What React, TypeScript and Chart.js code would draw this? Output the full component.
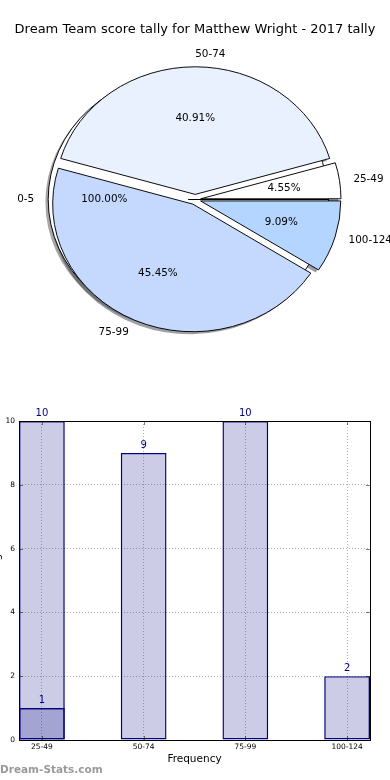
import React, { useEffect, useRef } from 'react';
import { Chart, registerables } from 'chart.js';

Chart.register(...registerables);

// ---------------- data ----------------
const chartTitle = 'Dream Team score tally for Matthew Wright - 2017 tally';

const pieBands = ['25-49', '50-74', '75-99', '100-124'];
const pieCounts = [1, 9, 10, 2];
const pieColors = ['#ffffff', '#e9f1ff', '#c5d9ff', '#b4d5ff'];

const zeroBands = ['0-5'];
const zeroCounts = [1];
const zeroColors = ['#ffffff'];

const barBands = ['25-49', '50-74', '75-99', '100-124'];
const barTotals = [10, 9, 10, 2];
const barOverlay: (number | null)[] = [1, null, null, null];
const yTickValues = [0, 2, 4, 6, 8, 10];

const xAxisTitle = 'Frequency';
const yAxisTitle = 'Score Range';
const watermark = 'Dream-Stats.com';

// ---------------- style ----------------
const FONT = '"DejaVu Sans", Verdana, sans-serif';
const PIE_CX = 195.2;
const PIE_CY = 199.5;
const PIE_RX = 140.2;
const PIE_RY = 127.6;
const PIE_SY = PIE_RY / PIE_RX;
const EXPLODE = [5.6, 6.8];
const SHADOW = 0.02 * PIE_RX;

function shadowOf(hex: string) {
  const n = parseInt(hex.slice(1), 16);
  const r = (n >> 16) & 255, g = (n >> 8) & 255, b = n & 255;
  return `rgba(${Math.round(r * 0.3)},${Math.round(g * 0.3)},${Math.round(b * 0.3)},0.5)`;
}

function applyEllipse(ctx: CanvasRenderingContext2D) {
  ctx.translate(PIE_CX, PIE_CY);
  ctx.scale(1, PIE_SY);
  ctx.translate(-PIE_CX, -PIE_CY);
}

// clockwise order for Chart.js (matplotlib draws counter-clockwise from east)
const pieOrder = pieBands.map((_, i) => pieBands.length - 1 - i);
const pieLabelSets = [pieOrder.map((i) => pieBands[i]), zeroBands];

const piePlugin = {
  id: 'pieLook',
  afterDatasetsUpdate(chart: any) {
    chart.data.datasets.forEach((_: any, di: number) => {
      const meta = chart.getDatasetMeta(di);
      meta.data.forEach((el: any) => {
        const mid = (el.startAngle + el.endAngle) / 2;
        el.x = PIE_CX + EXPLODE[di] * Math.cos(mid);
        el.y = PIE_CY + EXPLODE[di] * Math.sin(mid);
        el.innerRadius = 0;
        el.outerRadius = PIE_RX;
      });
    });
  },
  beforeDatasetsDraw(chart: any) {
    const ctx: CanvasRenderingContext2D = chart.ctx;
    ctx.save();
    applyEllipse(ctx);
    for (let di = chart.data.datasets.length - 1; di >= 0; di--) {
      const ds = chart.data.datasets[di];
      chart.getDatasetMeta(di).data.forEach((el: any, i: number) => {
        const x = el.x - SHADOW;
        const y = el.y + SHADOW;
        ctx.beginPath();
        ctx.moveTo(x, y);
        ctx.arc(x, y, el.outerRadius, el.startAngle, el.endAngle);
        ctx.closePath();
        ctx.fillStyle = shadowOf(ds.backgroundColor[i]);
        ctx.fill();
      });
    }
    ctx.restore();
  },
  beforeDatasetDraw(chart: any) {
    chart.ctx.save();
    applyEllipse(chart.ctx);
  },
  afterDatasetDraw(chart: any) {
    chart.ctx.restore();
  },
  afterDraw(chart: any) {
    const ctx: CanvasRenderingContext2D = chart.ctx;
    ctx.save();
    ctx.fillStyle = '#000';
    ctx.textBaseline = 'middle';
    ctx.textAlign = 'center';
    ctx.font = `13px ${FONT}`;
    ctx.fillText(chartTitle, 195, 30);
    ctx.font = `10.4px ${FONT}`;
    chart.data.datasets.forEach((ds: any, di: number) => {
      const total = ds.data.reduce((s: number, v: number) => s + v, 0);
      chart.getDatasetMeta(di).data.forEach((el: any, i: number) => {
        const mid = (el.startAngle + el.endAngle) / 2;
        const c = Math.cos(mid);
        const s = Math.sin(mid);
        const toScreenY = (uy: number) => PIE_CY + (uy - PIE_CY) * PIE_SY;
        // outer label
        ctx.textAlign = c > -1e-6 ? 'left' : 'right';
        ctx.fillText(pieLabelSets[di][i], el.x + 1.1 * PIE_RX * c, toScreenY(el.y + 1.1 * PIE_RX * s));
        // percentage
        ctx.textAlign = 'center';
        const pct = ((100 * ds.data[i]) / total).toFixed(2) + '%';
        ctx.fillText(pct, el.x + 0.6 * PIE_RX * c, toScreenY(el.y + 0.6 * PIE_RX * s));
      });
    });
    ctx.restore();
  },
};

function pieConfig(): any {
  return {
    type: 'pie',
    data: {
      labels: pieLabelSets[0],
      datasets: [
        {
          data: pieOrder.map((i) => pieCounts[i]),
          backgroundColor: pieOrder.map((i) => pieColors[i]),
          borderColor: '#000',
          borderWidth: 1,
        },
        {
          data: zeroCounts,
          backgroundColor: zeroColors,
          borderColor: '#000',
          borderWidth: 1,
        },
      ],
    },
    options: {
      responsive: false,
      animation: false,
      events: [],
      rotation: 90,
      plugins: { legend: { display: false }, tooltip: { enabled: false } },
    },
    plugins: [piePlugin],
  };
}

const barPlugin = {
  id: 'barLook',
  afterDraw(chart: any) {
    const ctx: CanvasRenderingContext2D = chart.ctx;
    const a = chart.chartArea;
    const xs = chart.scales.x;
    const ys = chart.scales.y;
    ctx.save();
    // inward tick marks
    ctx.strokeStyle = 'rgba(0,0,0,0.5)';
    ctx.lineWidth = 1;
    ctx.beginPath();
    yTickValues.forEach((v) => {
      const y = Math.round(ys.getPixelForValue(v)) + 0.5;
      ctx.moveTo(a.left, y);
      ctx.lineTo(a.left + 4, y);
      ctx.moveTo(a.right - 4, y);
      ctx.lineTo(a.right, y);
    });
    barBands.forEach((_, i) => {
      const x = Math.round(xs.getPixelForValue(i)) + 0.5;
      ctx.moveTo(x, a.top);
      ctx.lineTo(x, a.top + 4);
      ctx.moveTo(x, a.bottom - 4);
      ctx.lineTo(x, a.bottom);
    });
    ctx.stroke();
    // frame
    ctx.strokeStyle = '#000';
    const l = Math.round(a.left), t = Math.round(a.top), r = Math.round(a.right), b = Math.round(a.bottom);
    ctx.strokeRect(l + 0.5, t + 0.5, r - l, b - t);
    // value labels
    ctx.fillStyle = '#000080';
    ctx.font = `10px ${FONT}`;
    ctx.textAlign = 'center';
    ctx.textBaseline = 'alphabetic';
    chart.data.datasets.forEach((ds: any, di: number) => {
      chart.getDatasetMeta(di).data.forEach((el: any, i: number) => {
        const v = ds.data[i].y;
        if (v == null) return;
        ctx.fillText(String(v), el.x, el.y - 5);
      });
    });
    // y axis title (mostly cut off at the left edge)
    ctx.save();
    ctx.fillStyle = '#000';
    ctx.font = `10.5px ${FONT}`;
    ctx.translate(-3, (a.top + a.bottom) / 2);
    ctx.rotate(-Math.PI / 2);
    ctx.textAlign = 'center';
    ctx.textBaseline = 'middle';
    ctx.fillText(yAxisTitle, 0, 0);
    ctx.restore();
    // watermark
    ctx.fillStyle = '#9a9a9a';
    ctx.font = `bold 10.5px ${FONT}`;
    ctx.textAlign = 'left';
    ctx.textBaseline = 'middle';
    ctx.fillText(watermark, 0, 390);
    ctx.restore();
  },
};

function barConfig(): any {
  const common = {
    backgroundColor: 'rgba(0,0,128,0.2)',
    borderColor: '#000080',
    borderWidth: 1.4,
    borderSkipped: false,
    grouped: false,
    barPercentage: 0.45,
    categoryPercentage: 1,
  };
  const gridOpts = { color: 'rgba(0,0,0,0.3)', drawTicks: false, z: 1, offset: false };
  const borderOpts = { display: false, dash: [1, 2] };
  return {
    type: 'bar',
    data: {
      datasets: [
        { label: 'overlay', data: barOverlay.map((v, i) => ({ x: i, y: v })), ...common },
        { label: 'totals', data: barTotals.map((v, i) => ({ x: i, y: v })), ...common },
      ],
    },
    options: {
      responsive: false,
      animation: false,
      events: [],
      layout: { padding: { top: 41, right: 20, left: 0, bottom: 0 } },
      plugins: { legend: { display: false }, tooltip: { enabled: false } },
      scales: {
        x: {
          type: 'linear',
          offset: false,
          min: -0.225,
          max: 3.225,
          afterBuildTicks: (s: any) => {
            s.ticks = barBands.map((_, i) => ({ value: i }));
          },
          afterFit: (s: any) => {
            s.height = 40;
          },
          ticks: {
            callback: (v: number) => barBands[v] ?? '',
            font: { family: FONT, size: 7.5 },
            color: '#000',
            padding: 3,
            maxRotation: 0,
            autoSkip: false,
          },
          grid: gridOpts,
          border: borderOpts,
          title: {
            display: true,
            text: xAxisTitle,
            font: { family: FONT, size: 10.5 },
            color: '#000',
            padding: { top: 0, bottom: 14 },
          },
        },
        y: {
          min: 0,
          max: 10,
          afterBuildTicks: (s: any) => {
            s.ticks = yTickValues.map((v) => ({ value: v }));
          },
          afterFit: (s: any) => {
            s.width = 19;
          },
          ticks: {
            font: { family: FONT, size: 7.5 },
            color: '#000',
            padding: 4,
          },
          grid: gridOpts,
          border: borderOpts,
        },
      },
    },
    plugins: [barPlugin],
  };
}

export default function App() {
  const pieRef = useRef<HTMLCanvasElement>(null);
  const barRef = useRef<HTMLCanvasElement>(null);
  useEffect(() => {
    const pie = new Chart(pieRef.current as HTMLCanvasElement, pieConfig());
    const bar = new Chart(barRef.current as HTMLCanvasElement, barConfig());
    return () => {
      pie.destroy();
      bar.destroy();
    };
  }, []);
  return (
    <div style={{ position: 'fixed', left: 0, top: 0, width: 390, height: 780, background: '#fff', overflow: 'hidden' }}>
      <canvas ref={pieRef} width={390} height={380} style={{ position: 'absolute', left: 0, top: 0, width: 390, height: 380 }} />
      <canvas ref={barRef} width={390} height={400} style={{ position: 'absolute', left: 0, top: 380, width: 390, height: 400 }} />
    </div>
  );
}
